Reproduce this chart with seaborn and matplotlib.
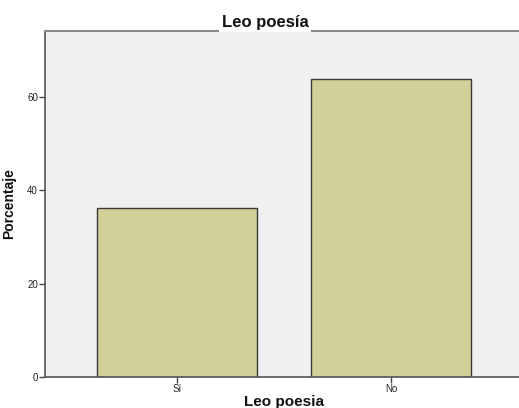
import matplotlib
matplotlib.use('Agg')
import matplotlib.pyplot as plt
import seaborn as sns
import pandas as pd

categorias = ['Sí', 'No']
porcentajes = [36.2, 63.8]

sns.set_style('white')
plt.rcParams['font.family'] = ['Liberation Sans', 'DejaVu Sans']

df = pd.DataFrame({'Leo poesia': categorias, 'Porcentaje': porcentajes})

fig = plt.figure(figsize=(5.19, 4.08), dpi=100)
ax = fig.add_axes([45 / 519, 31 / 408, 478 / 519, 346 / 408])
ax.set_facecolor('#f0f0f0')

sns.barplot(data=df, x='Leo poesia', y='Porcentaje', order=categorias,
            color='#d3cf98', saturation=1, width=0.752,
            edgecolor='#3a3a3a', linewidth=1.0, ax=ax)

ax.set_xlim(-0.617, 1.617)
ax.set_ylim(0, 74.1)
ax.set_yticks([0, 20, 40, 60])

for s in ['left', 'bottom']:
    ax.spines[s].set_color('#555555')
    ax.spines[s].set_linewidth(1.2)
ax.spines['top'].set_color('#8a8a8a')
ax.spines['top'].set_linewidth(1.5)
ax.spines['right'].set_visible(False)

ax.tick_params(axis='both', direction='out', length=4, width=1,
               bottom=True, left=True,
               color='#444444', labelsize=7, pad=1, labelcolor='#222222')

ax.set_xlabel('Leo poesia', fontsize=11, fontweight='bold', labelpad=1,
              color='#111111')
ax.set_ylabel('Porcentaje', fontsize=10, fontweight='bold', labelpad=8,
              color='#111111')

fig.text(265 / 519, 1 - 22 / 408, 'Leo poesía', ha='center', va='center',
         fontsize=12, fontweight='bold', color='#111111',
         bbox=dict(facecolor='white', edgecolor='none', pad=2))

fig.savefig('out.png', dpi=100)
